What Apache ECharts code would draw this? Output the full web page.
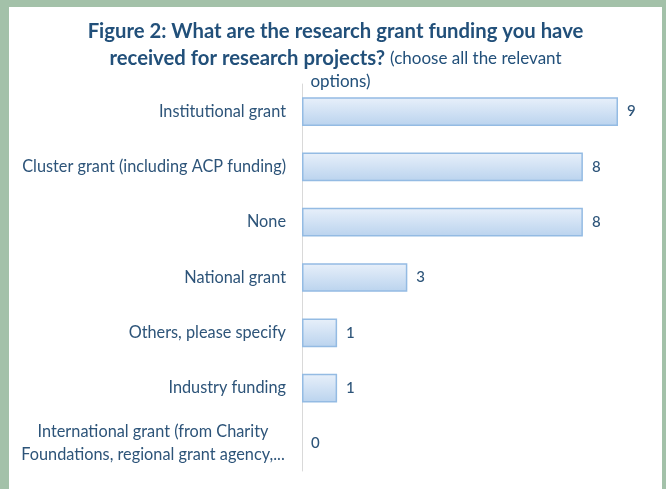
<!DOCTYPE html>
<html>
<head>
<meta charset="utf-8">
<script src="https://cdn.jsdelivr.net/npm/echarts@6/dist/echarts.min.js"></script>
<style>
html,body{margin:0;padding:0;background:#a3c1a9;width:666px;height:489px;overflow:hidden;}
#chart{position:absolute;left:9px;top:7px;width:653px;height:482px;background:#ffffff;}
</style>
</head>
<body>
<div id="chart"></div>
<script>
const categories = [
  'Institutional grant',
  'Cluster grant (including ACP funding)',
  'None',
  'National grant',
  'Others, please specify',
  'Industry funding',
  'International grant (from Charity\nFoundations, regional grant agency,...'
];
const values = [9, 8, 8, 3, 1, 1, 0];

const chart = echarts.init(document.getElementById('chart'));
const txt = '#2d5479';
chart.setOption({
  animation: false,
  title: {
    left: 'center',
    top: 6,
    text: '{b|Figure 2: What are the research grant funding you have}\n{b|received for research projects?} {n|(choose all the relevant}\n{o|options)}',
    textStyle: {
      rich: {
        b: {fontFamily: 'Lato', fontWeight: 'bold', fontSize: 20.3, color: '#22507a', lineHeight: 27},
        n: {fontFamily: 'Lato', fontWeight: 'normal', fontSize: 17, color: '#22507a', lineHeight: 20},
        o: {fontFamily: 'Lato', fontWeight: 'normal', fontSize: 17, color: '#22507a', lineHeight: 20, padding: [0, 0, 0, 10]}
      }
    }
  },
  grid: {left: 293, top: 77, width: 316, height: 387, containLabel: false, outerBoundsMode: 'none'},
  xAxis: {
    type: 'value', min: 0, max: 9, show: false
  },
  yAxis: {
    type: 'category',
    inverse: true,
    data: categories,
    axisLine: {show: true, lineStyle: {color: '#d9d9d9', width: 1}},
    axisTick: {show: false},
    axisLabel: {
      margin: 16,
      fontFamily: 'Lato', fontSize: 16.3, color: txt,
      formatter: function (v) {
        if (v.indexOf('\n') >= 0) {
          return v.split('\n').map(function (s) { return '{c|' + s + '}'; }).join('\n');
        }
        return v;
      },
      rich: {
        c: {width: 266, align: 'center', fontFamily: 'Lato', fontSize: 16.3, color: txt, lineHeight: 23}
      }
    }
  },
  series: [{
    type: 'bar',
    data: values.map(function (v) { return v === 0 ? {value: v, itemStyle: {borderWidth: 0}} : v; }),
    barCategoryGap: '48%',
    itemStyle: {
      color: new echarts.graphic.LinearGradient(0, 0, 0, 1, [
        {offset: 0, color: '#e8f0fa'},
        {offset: 1, color: '#bad3ee'}
      ]),
      borderColor: '#94bbe3',
      borderWidth: 1.5
    },
    label: {
      show: true, position: 'right', distance: 9,
      fontFamily: 'Lato', fontSize: 15, fontWeight: 500, color: txt
    }
  }]
});
</script>
</body>
</html>
